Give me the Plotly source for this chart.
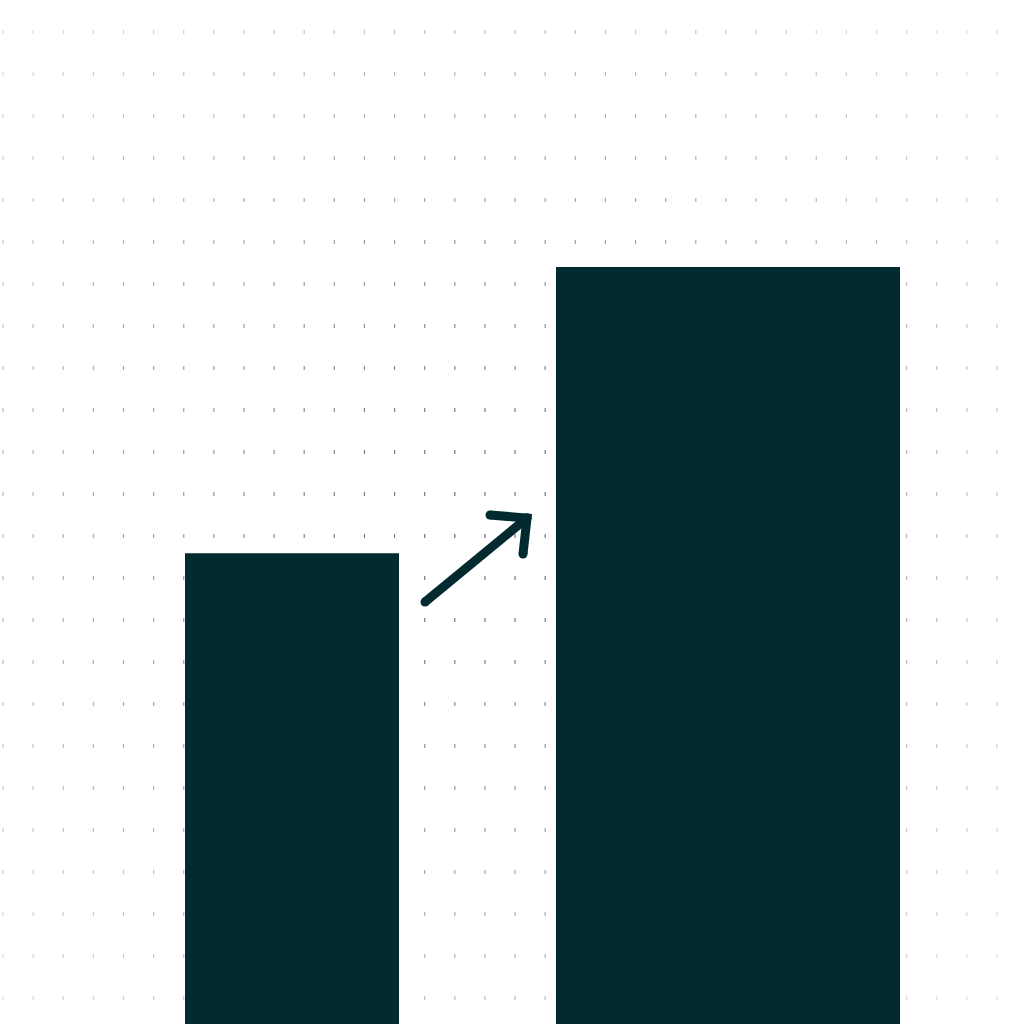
import numpy as np
import plotly.graph_objects as go

# bar data
categories = ["Before", "After"]
values = [62.2, 100]

# layout constants (pixel space of the 1024 canvas)
W = H = 1024
bar_centers = [292, 728]
bar_widths = [214, 344]
y_top = 135.27  # value shown at the very top edge
ink = "#022a2f"

# dotted background grid
gx = np.linspace(3, 997, 34)
gy = np.arange(32, 1000, 42)
XX, YY = np.meshgrid(gx, gy)
XX, YY = XX.ravel(), YY.ravel()
d = np.hypot(XX - 470, YY - 520)
shade = np.clip(1 - d / 760, 0.12, 1)
dot_cols = [f"rgba(60,78,82,{0.10 + 0.72 * s:.2f})" for s in shade]

fig = go.Figure()

fig.add_trace(go.Scatter(
    x=XX, y=YY, mode="markers", xaxis="x", yaxis="y",
    marker=dict(symbol="line-ns", size=3, line=dict(width=1.2, color=dot_cols)),
    hoverinfo="skip", showlegend=False,
))

# arrow (shaft + open head), with round ends
arrow_x = [425, 527, None, 490, 527, 523]
arrow_y = [602, 518, None, 515, 518, 554]
fig.add_trace(go.Scatter(
    x=arrow_x, y=arrow_y, mode="lines+markers", xaxis="x", yaxis="y",
    line=dict(color=ink, width=9),
    marker=dict(color=ink, size=9, line=dict(width=0)),
    hoverinfo="skip", showlegend=False,
))

fig.add_trace(go.Bar(
    x=bar_centers, y=values, width=bar_widths,
    hovertext=categories, xaxis="x2", yaxis="y2",
    marker=dict(color=ink, line=dict(width=0)),
    showlegend=False,
))

hidden = dict(visible=False, showgrid=False, zeroline=False, fixedrange=True)
fig.update_layout(
    width=W, height=H,
    margin=dict(l=0, r=0, t=0, b=0),
    paper_bgcolor="white", plot_bgcolor="white",
    xaxis=dict(range=[0, W], **hidden),
    yaxis=dict(range=[H, 0], **hidden),
    xaxis2=dict(range=[0, W], overlaying="x", **hidden),
    yaxis2=dict(range=[0, y_top], overlaying="y", **hidden),
)

# drop the browser's default body margin so the canvas sits at 0,0
fig.write_html("out.html", config={"displayModeBar": False},
               post_script="document.body.style.margin='0';")
